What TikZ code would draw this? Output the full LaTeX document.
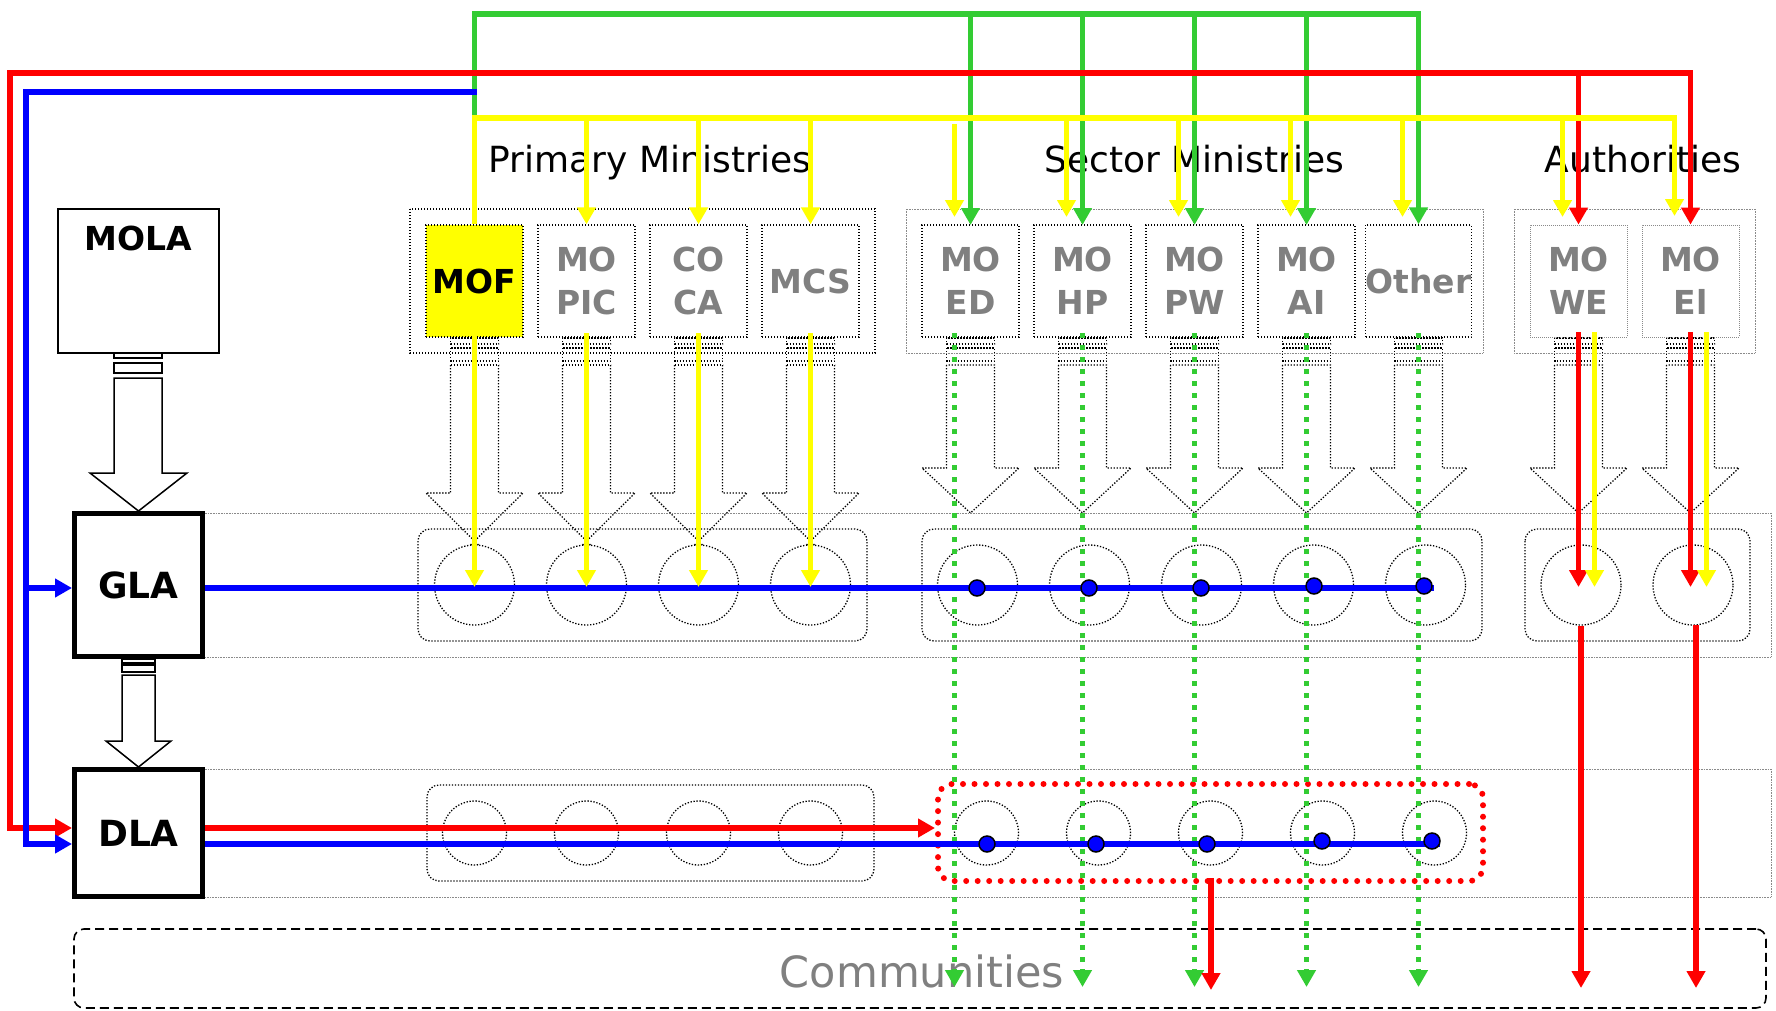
\documentclass[tikz,border=0pt]{standalone}
\usepackage{fontspec}
\setmainfont{DejaVu Sans}
\usetikzlibrary{arrows.meta}
\definecolor{cred}{HTML}{FF0000}
\definecolor{cblue}{HTML}{0000FF}
\definecolor{cgreen}{HTML}{33CC33}
\definecolor{cyellow}{HTML}{FFFF00}
\definecolor{cgray}{HTML}{808080}
\definecolor{cband}{HTML}{8A8A8A}
\newcommand{\secarrow}[1]{%
  \draw[blkdot] (#1-24,338) rectangle (#1+24,344);
  \draw[blkdot] (#1-24,348) rectangle (#1+24,361);
  \draw[blkdot] (#1-24,365) -- (#1-24,468) -- (#1-48.5,468) -- (#1,513) -- (#1+48.5,468) -- (#1+24,468) -- (#1+24,365) -- cycle;}
\newcommand{\primarrow}[1]{%
  \draw[blkdot] (#1-24,338) rectangle (#1+24,344);
  \draw[blkdot] (#1-24,348) rectangle (#1+24,361);
  \draw[blkdot] (#1-24,365) -- (#1+24,365);
  \draw[blkdot] (#1-24,365) -- (#1-24,493) -- (#1-48.5,493) -- (#1+5,546);
  \draw[blkdot] (#1+24,365) -- (#1+24,493) -- (#1+48.5,493) -- (#1-5,546);}
\begin{document}
\begin{tikzpicture}[x=1pt,y=-1pt,
  blkdot/.style={draw=black, line width=1.3pt, dash pattern=on 1.3pt off 1.7pt},
  graydot/.style={draw=cband, line width=0.8pt, dash pattern=on 0.8pt off 0.8pt},
  mbox/.style={blkdot, fill=white, minimum width=97pt, minimum height=112pt, inner sep=0pt, align=center, font=\fontsize{33}{43}\selectfont\bfseries, text=cgray},
  abox/.style={mbox, draw=cband, line width=0.9pt, dash pattern=on 0.9pt off 1.1pt},
  gcirc/.style={circle, blkdot, minimum size=80pt, inner sep=0pt},
  dcirc/.style={circle, blkdot, minimum size=64pt, inner sep=0pt},
  lbox/.style={draw=black, line width=5pt, fill=white, minimum width=128pt, inner sep=0pt, font=\fontsize{36}{40}\selectfont\bfseries},
  title/.style={font=\fontsize{36}{40}\selectfont, inner sep=0pt, anchor=base},
  cl/.style={line width=5.5pt},
  tip/.style={-{Triangle[length=17pt,width=18pt]}},
  ltip/.style={{Triangle[length=17pt,width=18pt]}-},
  tt/.style={{Triangle[length=17pt,width=18pt]}-{Triangle[length=17pt,width=18pt]}},
  gdot/.style={draw=cgreen, line width=5pt, dash pattern=on 5pt off 7pt},
  bdot/.style={circle, fill=cblue, draw=black, line width=1.5pt, minimum size=16pt, inner sep=0pt}
]
\fill[white] (0,0) rectangle (1776,1011);
\useasboundingbox (0,0) rectangle (1776,1011);

% bands
\draw[graydot] (202,513) rectangle (1771,657);
\draw[graydot] (202,769) rectangle (1771,897);

% group frames (top)
\draw[blkdot] (410,209) rectangle (875,353);
\draw[graydot] (906,209) rectangle (1483,353);
\draw[graydot] (1514,209) rectangle (1755,353);

% group frames (GLA / DLA)
\draw[blkdot, rounded corners=12pt] (418,529) rectangle (867,641);
\draw[blkdot, rounded corners=12pt] (922,529) rectangle (1482,641);
\draw[blkdot, rounded corners=12pt] (1525,529) rectangle (1750,641);
\draw[blkdot, rounded corners=12pt] (427,785) rectangle (874,881);

% circles
\node[gcirc] (gp1) at (474.5,585) {};
\node[gcirc] (gp2) at (586.5,585) {};
\node[gcirc] (gp3) at (698.5,585) {};
\node[gcirc] (gp4) at (810.5,585) {};
\node[gcirc] (gs1) at (977.5,585) {};
\node[gcirc] (gs2) at (1089.5,585) {};
\node[gcirc] (gs3) at (1201.5,585) {};
\node[gcirc] (gs4) at (1313.5,585) {};
\node[gcirc] (gs5) at (1425.5,585) {};
\node[gcirc] (ga1) at (1581,585) {};
\node[gcirc] (ga2) at (1693,585) {};
\node[dcirc] (dp1) at (474.5,833) {};
\node[dcirc] (dp2) at (586.5,833) {};
\node[dcirc] (dp3) at (698.5,833) {};
\node[dcirc] (dp4) at (810.5,833) {};
\node[dcirc] (ds1) at (986.5,833) {};
\node[dcirc] (ds2) at (1098.5,833) {};
\node[dcirc] (ds3) at (1210.5,833) {};
\node[dcirc] (ds4) at (1322.5,833) {};
\node[dcirc] (ds5) at (1434.5,833) {};
\node[draw=cred, line width=6pt, dash pattern=on 0pt off 11.5pt, line cap=round, rounded corners=14pt, minimum width=545pt, minimum height=97pt, inner sep=0pt] (dsgrp) at (1210.5,832.5) {};

% block arrows
\foreach \c in {474.5,586.5,698.5,810.5} {\primarrow{\c}}
\foreach \c in {970.5,1082.5,1194.5,1306.5,1418.5,1578.5,1690.5} {\secarrow{\c}}

% MOLA -> GLA -> DLA arrows
\draw[line width=1.5pt, fill=white] (114,353) rectangle (162,358);
\draw[line width=1.5pt, fill=white] (114,363) rectangle (162,373);
\draw[line width=1.5pt, fill=white] (114,378) -- (114,473) -- (90,473) -- (138.5,511) -- (187,473) -- (162,473) -- (162,378) -- cycle;
\draw[line width=1.5pt, fill=white] (122,659) rectangle (155,663);
\draw[line width=1.5pt, fill=white] (122,665) rectangle (155,672);
\draw[line width=1.5pt, fill=white] (122,675) -- (122,741) -- (106,741) -- (138.5,767) -- (171,741) -- (155,741) -- (155,675) -- cycle;

% left boxes
\node[draw=black, line width=1.5pt, fill=white, minimum width=161pt, minimum height=144pt, inner sep=0pt] (mola) at (138.5,281) {};
\node[inner sep=0pt, anchor=base, font=\fontsize{33}{40}\selectfont\bfseries] (molat) at (138.5,250) {MOLA};
\node[lbox, minimum height=143pt] (gla) at (138.5,585) {GLA};
\node[lbox, minimum height=127pt] (dla) at (138.5,833) {DLA};

% ministry boxes
\node[mbox, fill=cyellow, text=black] (mof) at (474.5,281) {MOF};
\node[mbox] (mopic) at (586.5,281) {MO\\PIC};
\node[mbox] (coca) at (698.5,281) {CO\\CA};
\node[mbox] (mcs) at (810.5,281) {MCS};
\node[mbox] (moed) at (970.5,281) {MO\\ED};
\node[mbox] (mohp) at (1082.5,281) {MO\\HP};
\node[mbox] (mopw) at (1194.5,281) {MO\\PW};
\node[mbox] (moai) at (1306.5,281) {MO\\AI};
\node[mbox] (other) at (1418.5,281) {Other};
\node[abox] (mowe) at (1578.5,281) {MO\\WE};
\node[abox] (moei) at (1690.5,281) {MO\\El};

% titles
\node[title] (tprim) at (650,173) {Primary Ministries};
\node[title] (tsect) at (1194.5,173) {Sector Ministries};
\node[title] (tauth) at (1643,173) {Authorities};

% communities
\node[draw=black, line width=1.6pt, dash pattern=on 9pt off 5pt, rounded corners=10pt, minimum width=1692pt, minimum height=79pt, inner sep=0pt] (commbox) at (920,968.5) {};
\node[inner sep=0pt, anchor=base, font=\fontsize{43}{48}\selectfont, text=cgray] (comm) at (922,987) {Communities};

% green network
\draw[cl, draw=cgreen, tip] (474.5,118) -- (474.5,14) -- (1418.5,14) -- (other.north);
\foreach \x in {970.5,1082.5,1194.5,1306.5} {\draw[cl, draw=cgreen, tip] (\x,12) -- (\x,225);}
\foreach \x in {954.5,1082.5,1194.5,1306.5,1418.5} {\draw[gdot, tip] (\x,333) -- (\x,987);}

% red network
\draw[cl, draw=cred, tt] (72,828) -- (10,828) -- (10,73) -- (1690.5,73) -- (moei.north);
\draw[cl, draw=cred, tip] (1578.5,71) -- (mowe.north);
\draw[cl, draw=cred, tip] (1578.5,332) -- (1578.5,587);
\draw[cl, draw=cred, tip] (1690.5,332) -- (1690.5,587);
\draw[cl, draw=cred, tip] (ga1.south) -- (1581,988);
\draw[cl, draw=cred, tip] (1696,625) -- (1696,988);
\draw[cl, draw=cred, tip] (dla.east |- 0,828) -- (dsgrp.west |- 0,828);
\draw[cl, draw=cred, tip] (1211,878) -- (1211,990);

% blue network
\draw[cl, draw=cblue, ltip] (72,844) -- (26,844) -- (26,92) -- (477,92);
\draw[cl, draw=cblue, tip] (26,588) -- (72,588);
\draw[cl, draw=cblue] (gla.east |- 0,588) -- (1434,588);
\draw[cl, draw=cblue] (dla.east |- 0,844) -- (1440,844);

% yellow network
\draw[cl, draw=cyellow, tip] (mof.north) -- (474.5,118) -- (1674.5,118) -- (1674.5,216);
\foreach \n in {mopic,coca,mcs} {\draw[cl, draw=cyellow, tip] (\n.north |- 0,118) -- (\n.north);}
\draw[cl, draw=cyellow, tip] (954.5,124) -- (954.5,217);
\foreach \x in {1066.5,1178.5,1290.5,1402.5,1562.5} {\draw[cl, draw=cyellow, tip] (\x,118) -- (\x,217);}
\foreach \x in {474.5,586.5,698.5,810.5} {\draw[cl, draw=cyellow, tip] (\x,333) -- (\x,587);}
\draw[cl, draw=cyellow, tip] (1594.5,332) -- (1594.5,587);
\draw[cl, draw=cyellow, tip] (1706.5,332) -- (1706.5,587);

% blue dots
\node[bdot] (bg1) at (977,588) {};
\node[bdot] (bg2) at (1089,588) {};
\node[bdot] (bg3) at (1201,588) {};
\node[bdot] (bg4) at (1314,586) {};
\node[bdot] (bg5) at (1424,586) {};
\node[bdot] (bd1) at (987,844) {};
\node[bdot] (bd2) at (1096,844) {};
\node[bdot] (bd3) at (1207,844) {};
\node[bdot] (bd4) at (1322,841) {};
\node[bdot] (bd5) at (1432,841) {};
\end{tikzpicture}
\end{document}
